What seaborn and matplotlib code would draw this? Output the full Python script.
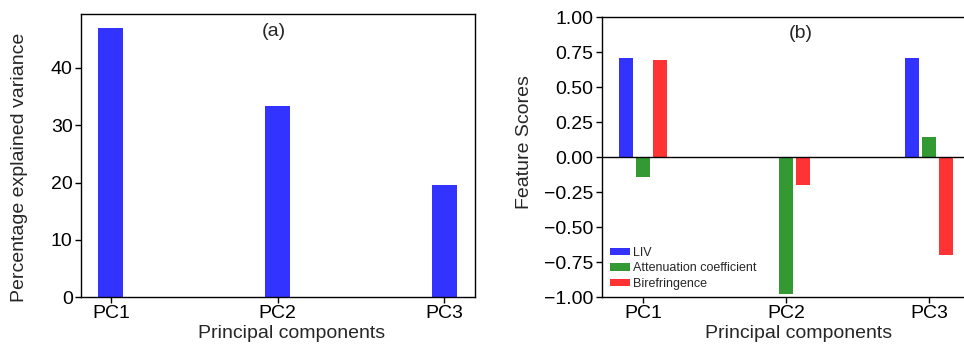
import pandas as pd
import matplotlib
matplotlib.use("Agg")
import matplotlib.pyplot as plt
import seaborn as sns

# ── data ────────────────────────────────────────────────
components = ["PC1", "PC2", "PC3"]
explained_variance = [47.0, 33.4, 19.6]

features = ["LIV", "Attenuation coefficient", "Birefringence"]
liv_scores = [0.707, 0.0, 0.707]
attenuation_scores = [-0.14, -0.98, 0.143]
birefringence_scores = [0.69, -0.20, -0.70]

feature_colors = ["#3333ff", "#339933", "#ff3333"]

scores = pd.DataFrame({
    "PC": components * 3,
    "Feature": [f for f in features for _ in components],
    "Score": liv_scores + attenuation_scores + birefringence_scores,
})

# ── style ──────────────────────────────────────────────
sns.set_style("ticks")
plt.rcParams["font.family"] = ["Liberation Sans", "DejaVu Sans"]
plt.rcParams["axes.unicode_minus"] = True
fs = 14

fig = plt.figure(figsize=(9.64, 3.45), dpi=100)
ax1 = fig.add_axes([0.084, 0.139, 0.409, 0.820])
ax2 = fig.add_axes([0.6245, 0.139, 0.3817, 0.8116])

# ══════════════════════════════════════════════════════
# (a) explained variance
# ══════════════════════════════════════════════════════
sns.barplot(x=components, y=explained_variance, color="#3333ff", width=0.15,
            saturation=1, linewidth=0, ax=ax1)
ax1.set_xlim(-0.18, 2.186)
ax1.set_ylim(0, 49.4)
ax1.set_yticks([0, 10, 20, 30, 40])
ax1.set_xlabel("Principal components", fontsize=fs, x=0.533, labelpad=2)
ax1.set_ylabel("Percentage explained variance", fontsize=fs)
ax1.yaxis.set_label_coords(-0.135, 0.459)
ax1.tick_params(labelsize=fs, length=4, width=1, colors="black", pad=2)
ax1.text(0.49, 0.97, "(a)", transform=ax1.transAxes, ha="center", va="top", fontsize=14)

# ══════════════════════════════════════════════════════
# (b) feature scores
# ══════════════════════════════════════════════════════
sns.barplot(data=scores, x="PC", y="Score", hue="Feature", hue_order=features,
            order=components, palette=feature_colors, width=0.36, gap=0.1667,
            saturation=1, linewidth=0, ax=ax2)
ax2.axhline(0, color="black", linewidth=1)
ax2.set_xlim(-0.287, 2.287)
ax2.set_ylim(-1, 1)
ax2.set_yticks([-1, -0.75, -0.5, -0.25, 0, 0.25, 0.5, 0.75, 1])
ax2.set_yticklabels([f"{v:.2f}".replace("-", "\u2212") for v in ax2.get_yticks()])
ax2.set_xlabel("Principal components", fontsize=fs, x=0.533, labelpad=2)
ax2.set_ylabel("Feature Scores", fontsize=fs)
ax2.yaxis.set_label_coords(-0.1875, 0.554)
ax2.tick_params(labelsize=fs, length=4, width=1, colors="black", pad=2)
ax2.text(0.54, 0.97, "(b)", transform=ax2.transAxes, ha="center", va="top", fontsize=14)
ax2.legend(loc="lower left", frameon=False, fontsize=9, handlelength=1.6,
           handleheight=0.5, handletextpad=0.25, borderaxespad=0.2,
           labelspacing=0.25)

for ax in (ax1, ax2):
    for s in ax.spines.values():
        s.set_color("black")
        s.set_linewidth(1)

fig.savefig("out.png", dpi=100)
plt.close(fig)
